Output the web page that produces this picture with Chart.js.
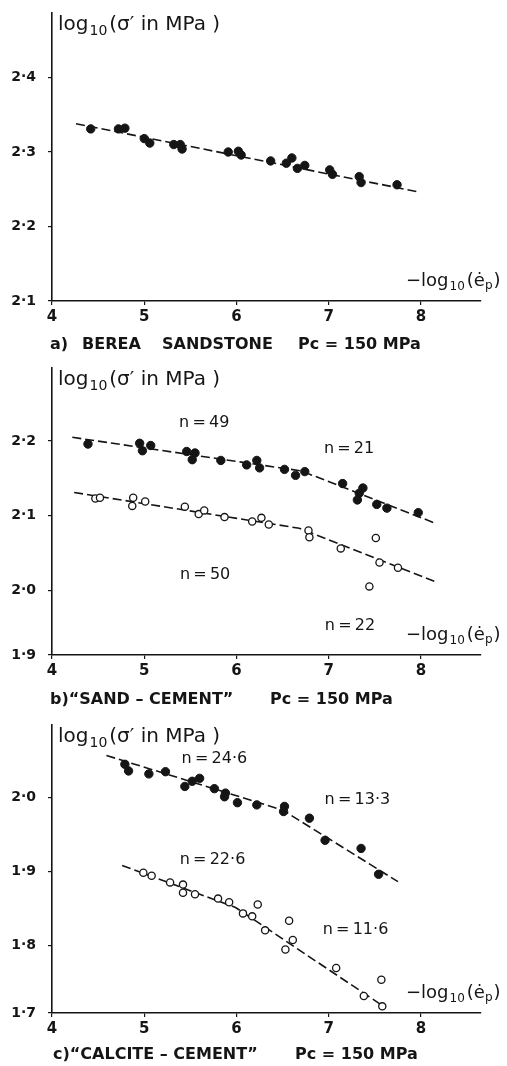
<!DOCTYPE html>
<html>
<head>
<meta charset="utf-8">
<script src="https://cdn.jsdelivr.net/npm/chart.js@4.4.1/dist/chart.umd.min.js"></script>
<style>
  body { margin: 0; background: #fff; width: 507px; height: 1066px; overflow: hidden; }
  .panel { position: absolute; left: 0; width: 507px; }
</style>
</head>
<body>
<div class="panel" style="top:0px"><canvas id="chartA" width="507" height="360"></canvas></div>
<div class="panel" style="top:360px"><canvas id="chartB" width="507" height="360"></canvas></div>
<div class="panel" style="top:720px"><canvas id="chartC" width="507" height="346"></canvas></div>
<script>
// x axis: -log10(strain rate)
const xTicks = [4, 5, 6, 7, 8];

// a) Berea sandstone
const aTicks = [2.1, 2.2, 2.3, 2.4];
const aX = [4.42, 4.72, 4.79, 5.00, 5.06, 5.32, 5.39, 5.41, 5.91, 6.02, 6.05, 6.37, 6.54, 6.60, 6.66, 6.74, 7.01, 7.04, 7.33, 7.35, 7.74];
const aY = [2.331, 2.331, 2.332, 2.318, 2.312, 2.310, 2.310, 2.304, 2.300, 2.301, 2.296, 2.288, 2.285, 2.292, 2.278, 2.282, 2.276, 2.270, 2.267, 2.259, 2.256];
const aFitX = [4.26, 7.95];
const aFitY = [2.338, 2.247];

// b) "sand-cement"
const bTicks = [1.9, 2.0, 2.1, 2.2];
const bFilledX = [4.39, 4.95, 4.98, 5.07, 5.46, 5.55, 5.52, 5.83, 6.11, 6.22, 6.25, 6.52, 6.64, 6.74, 7.15, 7.37, 7.33, 7.31, 7.52, 7.63, 7.97];
const bFilledY = [2.196, 2.197, 2.187, 2.194, 2.186, 2.184, 2.175, 2.174, 2.168, 2.174, 2.164, 2.162, 2.154, 2.159, 2.143, 2.137, 2.130, 2.121, 2.115, 2.110, 2.104];
const bFilledFitX = [4.22, 6.70, 8.15];
const bFilledFitY = [2.205, 2.160, 2.090];
const bOpenX = [4.47, 4.52, 4.88, 4.87, 5.01, 5.44, 5.59, 5.65, 5.87, 6.17, 6.27, 6.35, 6.78, 6.79, 7.13, 7.51, 7.44, 7.55, 7.75];
const bOpenY = [2.123, 2.124, 2.124, 2.113, 2.119, 2.112, 2.102, 2.107, 2.098, 2.092, 2.097, 2.088, 2.080, 2.071, 2.056, 2.070, 2.005, 2.037, 2.030];
const bOpenFitX = [4.24, 6.68, 8.16];
const bOpenFitY = [2.131, 2.083, 2.011];

// c) "calcite-cement"
const cTicks = [1.7, 1.8, 1.9, 2.0];
const cFilledX = [4.79, 4.83, 5.05, 5.23, 5.44, 5.52, 5.60, 5.76, 5.88, 5.87, 6.01, 6.22, 6.52, 6.51, 6.79, 6.96, 7.35, 7.54];
const cFilledY = [2.045, 2.036, 2.032, 2.035, 2.015, 2.022, 2.026, 2.012, 2.006, 2.001, 1.993, 1.990, 1.988, 1.981, 1.972, 1.942, 1.931, 1.896];
const cFilledFitX = [4.59, 6.50, 7.75];
const cFilledFitY = [2.057, 1.983, 1.886];
const cOpenX = [4.99, 5.08, 5.28, 5.42, 5.42, 5.55, 5.80, 5.92, 6.07, 6.17, 6.23, 6.31, 6.57, 6.53, 6.61, 7.08, 7.38, 7.57, 7.58];
const cOpenY = [1.898, 1.894, 1.885, 1.882, 1.871, 1.869, 1.863, 1.858, 1.843, 1.839, 1.855, 1.820, 1.833, 1.794, 1.807, 1.769, 1.731, 1.753, 1.717];
const cOpenFitX = [4.76, 5.99, 7.60];
const cOpenFitY = [1.908, 1.851, 1.7165];

const INK = '#151515';
const FONT = '"DejaVu Sans", sans-serif';

const pts = (xs, ys) => xs.map((x, i) => ({ x, y: ys[i] }));
const fmt = v => v.toFixed(1).replace('.', '\u00b7');

function filled(xs, ys) {
  return { type: 'scatter', data: pts(xs, ys), pointRadius: 4.2, pointHoverRadius: 4.2,
    backgroundColor: INK, borderColor: INK, borderWidth: 1, clip: false, order: 1 };
}
function open(xs, ys) {
  return { type: 'scatter', data: pts(xs, ys), pointRadius: 3.6, pointHoverRadius: 3.6,
    backgroundColor: '#fff', borderColor: INK, borderWidth: 1.3, clip: false, order: 1 };
}
function fit(xs, ys) {
  return { type: 'line', data: pts(xs, ys), borderColor: INK, borderWidth: 1.6,
    borderDash: [9, 4], pointRadius: 0, tension: 0, fill: false, clip: false, order: 2 };
}

// text with a lowered subscript, returns the x after it
function drawSub(ctx, x, y, base, sub, size) {
  ctx.font = size + 'px ' + FONT;
  ctx.fillText(base, x, y);
  x += ctx.measureText(base).width + 1;
  ctx.font = Math.round(size * 0.68) + 'px ' + FONT;
  ctx.fillText(sub, x, y + size * 0.32);
  return x + ctx.measureText(sub).width + 2;
}

// axis titles, the n = ... notes and the caption under each panel
const panelText = {
  id: 'panelText',
  afterDraw(chart, args, o) {
    const { ctx, chartArea, scales } = chart;
    ctx.save();
    ctx.fillStyle = INK;
    ctx.textBaseline = 'middle';
    ctx.textAlign = 'left';

    let x = 58, y = chartArea.top + 12;
    x = drawSub(ctx, x, y, 'log', '10', 20);
    ctx.font = '20px ' + FONT;
    ctx.fillText("(\u03c3\u2032 in MPa )", x, y);

    x = 406; y = chartArea.bottom - 20;
    x = drawSub(ctx, x, y, '\u2212log', '10', 18);
    ctx.font = '18px ' + FONT;
    ctx.fillText('(', x, y);
    x += ctx.measureText('(').width;
    ctx.fillText('\u0117', x, y);
    x += ctx.measureText('\u0117').width;
    ctx.font = '12px ' + FONT;
    ctx.fillText('p', x, y + 5);
    x += ctx.measureText('p').width + 1;
    ctx.font = '18px ' + FONT;
    ctx.fillText(')', x, y);

    ctx.textAlign = 'center';
    ctx.font = '16px ' + FONT;
    (o.notes || []).forEach(n => {
      ctx.fillText(n.text, scales.x.getPixelForValue(n.x), scales.y.getPixelForValue(n.y));
    });

    ctx.textAlign = 'left';
    ctx.font = 'bold 16px ' + FONT;
    const cy = chartArea.bottom + o.capDy;
    o.caption.forEach(c => ctx.fillText(c.text, c.x, cy));
    ctx.restore();
  }
};

function noPad(s) {
  s.paddingTop = 0; s.paddingBottom = 0; s.paddingLeft = 0; s.paddingRight = 0;
}

function makeChart(id, spec) {
  new Chart(document.getElementById(id), {
    data: { datasets: spec.datasets },
    plugins: [panelText],
    options: {
      responsive: false,
      animation: false,
      events: [],
      layout: { padding: { left: 0, top: spec.top, right: 26, bottom: spec.bottom } },
      plugins: {
        legend: { display: false },
        tooltip: { enabled: false },
        panelText: { notes: spec.notes, caption: spec.caption, capDy: spec.capDy }
      },
      scales: {
        x: {
          type: 'linear', min: 4, max: 8.65,
          afterBuildTicks: s => { s.ticks = xTicks.map(v => ({ value: v })); },
          afterFit: s => { s.height = 22; noPad(s); },
          border: { display: true, color: INK, width: 1.6 },
          grid: { display: true, drawOnChartArea: false, drawTicks: true, tickLength: 4, color: INK, lineWidth: 1.2 },
          ticks: { color: INK, font: { family: FONT, size: 15, weight: 'bold' }, padding: 3, maxRotation: 0 }
        },
        y: {
          type: 'linear', min: spec.yMin, max: spec.yMax,
          afterBuildTicks: s => { s.ticks = spec.yTicks.map(v => ({ value: Math.max(v, spec.yMin) })); },
          afterFit: s => { s.width = 52; noPad(s); },
          border: { display: true, color: INK, width: 1.6 },
          grid: { display: true, drawOnChartArea: false, drawTicks: true, tickLength: 4, color: INK, lineWidth: 1.2 },
          ticks: {
            color: INK, font: { family: FONT, size: 14, weight: 'bold' }, padding: 12,
            callback: (v, i) => fmt(spec.yTicks[i])
          }
        }
      }
    }
  });
}

makeChart('chartA', {
  top: 13, bottom: 37, yMin: 2.1, yMax: 2.4866, yTicks: aTicks, capDy: 44,
  datasets: [fit(aFitX, aFitY), filled(aX, aY)],
  notes: [],
  caption: [{ text: 'a)', x: 50 }, { text: 'BEREA', x: 82 }, { text: 'SANDSTONE', x: 162 }, { text: 'Pc = 150 MPa', x: 298 }]
});

makeChart('chartB', {
  top: 8, bottom: 43, yMin: 1.913, yMax: 2.298, yTicks: bTicks, capDy: 45,
  datasets: [fit(bFilledFitX, bFilledFitY), fit(bOpenFitX, bOpenFitY), filled(bFilledX, bFilledY), open(bOpenX, bOpenY)],
  notes: [
    { text: 'n\u2009=\u200949', x: 5.65, y: 2.224 }, { text: 'n\u2009=\u200921', x: 7.22, y: 2.189 },
    { text: 'n\u2009=\u200950', x: 5.66, y: 2.021 }, { text: 'n\u2009=\u200922', x: 7.23, y: 1.952 }
  ],
  caption: [{ text: 'b)\u201cSAND \u2013 CEMENT\u201d', x: 50 }, { text: 'Pc = 150 MPa', x: 270 }]
});

makeChart('chartC', {
  top: 2, bottom: 31, yMin: 1.708, yMax: 2.098, yTicks: cTicks, capDy: 42,
  datasets: [fit(cFilledFitX, cFilledFitY), fit(cOpenFitX, cOpenFitY), filled(cFilledX, cFilledY), open(cOpenX, cOpenY)],
  notes: [
    { text: 'n\u2009=\u200924\u00b76', x: 5.76, y: 2.052 }, { text: 'n\u2009=\u200913\u00b73', x: 7.31, y: 1.997 },
    { text: 'n\u2009=\u200922\u00b76', x: 5.74, y: 1.916 }, { text: 'n\u2009=\u200911\u00b76', x: 7.29, y: 1.821 }
  ],
  caption: [{ text: 'c)\u201cCALCITE \u2013 CEMENT\u201d', x: 53 }, { text: 'Pc = 150 MPa', x: 295 }]
});
</script>
</body>
</html>
